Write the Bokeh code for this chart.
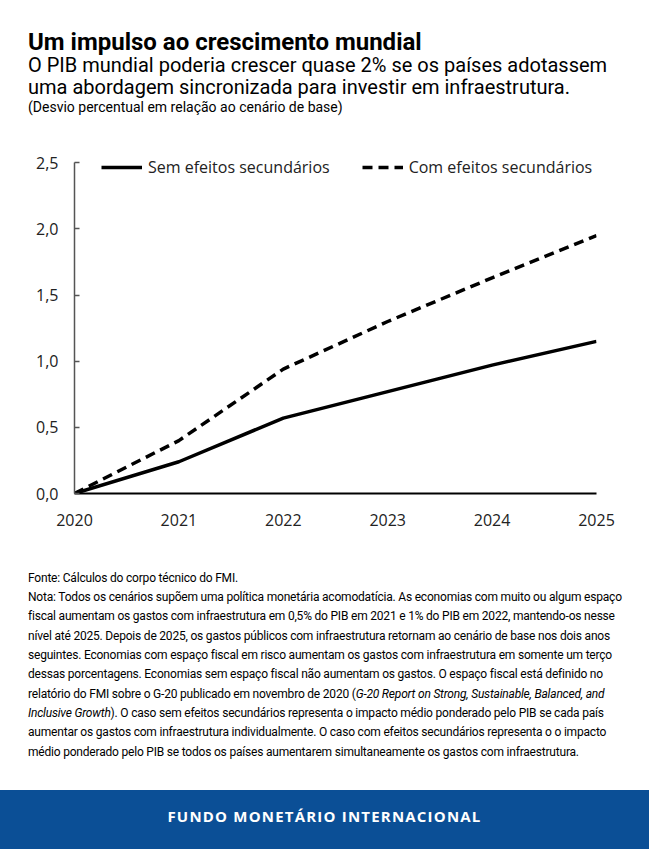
from bokeh.plotting import figure
from bokeh.models import Range1d, FixedTicker, Legend, LegendItem, ColumnDataSource, Div
from bokeh.layouts import column
from bokeh.embed import file_html
from bokeh.resources import INLINE

# ---------------- data ----------------
years = [2020, 2021, 2022, 2023, 2024, 2025]
sem_efeitos = [0.0, 0.24, 0.57, 0.77, 0.97, 1.15]
com_efeitos = [0.0, 0.40, 0.94, 1.30, 1.63, 1.95]
y_ticks = [0.0, 0.5, 1.0, 1.5, 2.0, 2.5]
y_tick_labels = ["0,0", "0,5", "1,0", "1,5", "2,0", "2,5"]
x_tick_labels = ["2020", "2021", "2022", "2023", "2024", "2025"]
series_names = ["Sem efeitos secundários", "Com efeitos secundários"]

title = "Um impulso ao crescimento mundial"
subtitle_lines = [
    "O PIB mundial poderia crescer quase 2% se os países adotassem",
    "uma abordagem sincronizada para investir em infraestrutura.",
]
unit_line = "(Desvio percentual em relação ao cenário de base)"
note_lines = [
    "Fonte: Cálculos do corpo técnico do FMI.",
    "Nota: Todos os cenários supõem uma política monetária acomodatícia. As economias com muito ou algum espaço",
    "fiscal aumentam os gastos com infraestrutura em 0,5% do PIB em 2021 e 1% do PIB em 2022, mantendo-os nesse",
    "nível até 2025. Depois de 2025, os gastos públicos com infraestrutura retornam ao cenário de base nos dois anos",
    "seguintes. Economias com espaço fiscal em risco aumentam os gastos com infraestrutura em somente um terço",
    "dessas porcentagens. Economias sem espaço fiscal não aumentam os gastos. O espaço fiscal está definido no",
    "relatório do FMI sobre o G-20 publicado em novembro de 2020 (<i>G-20 Report on Strong, Sustainable, Balanced, and</i>",
    "<i>Inclusive Growth</i>). O caso sem efeitos secundários representa o impacto médio ponderado pelo PIB se cada país",
    "aumentar os gastos com infraestrutura individualmente. O caso com efeitos secundários representa o o impacto",
    "médio ponderado pelo PIB se todos os países aumentarem simultaneamente os gastos com infraestrutura.",
]
footer_text = "FUNDO MONETÁRIO INTERNACIONAL"

W = 649

# ---------------- header ----------------
H1 = 130


def line_div(top, size, text, weight="normal"):
    return (f'<div style="position:absolute;left:28px;top:{top}px;font-size:{size}px;'
            f'font-weight:{weight};line-height:1;white-space:nowrap;">{text}</div>')


header_html = (
    f'<div style="position:relative;width:{W}px;height:{H1}px;font-family:Roboto;color:#000;">'
    + line_div(30.2, 24, title, "bold")
    + line_div(54.6, 20, subtitle_lines[0])
    + line_div(77.4, 20, subtitle_lines[1])
    + line_div(100.2, 14, unit_line)
    + '</div>'
)
header = Div(text=header_html, width=W, height=H1, margin=0)

# ---------------- chart ----------------
H2 = 415
p = figure(width=W, height=H2, x_range=Range1d(2020, 2025), y_range=Range1d(0, 2.6),
           min_border_left=74, min_border_right=53, min_border_top=19, min_border_bottom=52,
           toolbar_location=None, output_backend="svg", margin=0)
p.grid.visible = False
p.outline_line_color = None

src = ColumnDataSource(dict(x=years, sem=sem_efeitos, com=com_efeitos))
r1 = p.line("x", "sem", source=src, line_color="black", line_width=3.5)
r2 = p.line("x", "com", source=src, line_color="black", line_width=3.5, line_dash="10 6")

p.xaxis.ticker = FixedTicker(ticks=years)
p.xaxis.major_label_overrides = {y: l for y, l in zip(years, x_tick_labels)}
p.yaxis.ticker = FixedTicker(ticks=y_ticks)
p.yaxis.major_label_overrides = {t: l for t, l in zip(y_ticks, y_tick_labels)}
p.yaxis.bounds = (y_ticks[0], y_ticks[-1])

for ax in (p.xaxis, p.yaxis):
    ax.major_label_text_font = "Open Sans"
    ax.major_label_text_font_size = "16px"
    ax.major_label_text_color = "#222222"
    ax.minor_tick_line_color = None

p.xaxis.axis_line_color = "black"
p.xaxis.axis_line_width = 2
p.xaxis.major_tick_line_color = None
p.xaxis.major_label_standoff = 14

p.yaxis.axis_line_color = "#555555"
p.yaxis.axis_line_width = 1.5
p.yaxis.major_tick_line_color = "#555555"
p.yaxis.major_tick_line_width = 1.5
p.yaxis.major_tick_in = 5
p.yaxis.major_tick_out = 0
p.yaxis.major_label_standoff = 16

legend = Legend(items=[LegendItem(label=series_names[0], renderers=[r1]),
                       LegendItem(label=series_names[1], renderers=[r2])],
                location=(27, 315), orientation="horizontal", glyph_width=41, glyph_height=20,
                label_height=20, padding=0, margin=0, spacing=32, label_standoff=6,
                border_line_color=None, background_fill_alpha=0,
                label_text_font="Open Sans", label_text_font_size="16px",
                label_text_color="#222222")
p.add_layout(legend)

# ---------------- notes ----------------
H3 = 245
notes_html = (
    f'<div style="width:{W - 28}px;height:{H3 - 24}px;padding:23.7px 0 0 28px;'
    'font-family:Roboto;font-size:12px;letter-spacing:-0.2px;line-height:19.35px;'
    'color:#000;white-space:nowrap;">'
    + '<br>'.join(note_lines)
    + '</div>'
)
notes = Div(text=notes_html, width=W, height=H3, margin=0)

# ---------------- footer ----------------
H4 = 59
footer_html = (
    f'<div style="width:{W}px;height:{H4}px;background:#0b4f96;color:#fff;text-align:center;'
    'font-family:\'Open Sans\';font-weight:bold;font-size:15px;letter-spacing:1.2px;'
    'line-height:53px;">' + footer_text + '</div>'
)
footer = Div(text=footer_html, width=W, height=H4, margin=0)

layout = column(header, p, notes, footer, spacing=0, margin=0)

open("out.html", "w").write(file_html(layout, INLINE))
